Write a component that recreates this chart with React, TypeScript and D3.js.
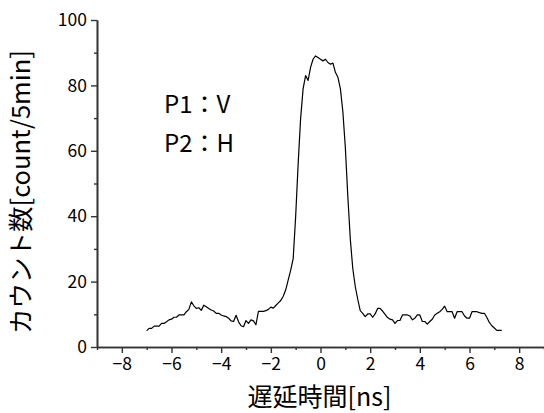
import React, { useEffect, useRef } from 'react';
import * as d3 from 'd3';

// delay time [ns] and counts per 5 min
const delays: number[] = d3.range(-7.0, 7.35, 0.1).map(v => Math.round(v * 10) / 10);
const counts: number[] = [
  5.0, 5.7, 5.7, 6.4, 6.4, 6.4, 7.2, 7.2, 7.7, 8.3,
  8.5, 9.1, 9.1, 9.8, 9.8, 9.8, 10.8, 11.5, 13.8, 12.6,
  11.8, 12.0, 11.2, 12.8, 12.3, 11.8, 11.3, 11.0, 10.3, 10.3,
  9.8, 9.5, 9.3, 8.8, 8.0, 7.8, 9.7, 7.7, 6.5, 6.2,
  8.1, 7.2, 8.3, 8.0, 6.8, 10.9, 10.9, 10.9, 11.1, 11.5,
  12.2, 11.9, 12.7, 13.5, 14.2, 15.5, 17.5, 20.5, 23.5, 27.0,
  40.0, 56.0, 70.0, 79.0, 83.0, 81.5, 85.5, 88.0, 89.0, 88.5,
  88.0, 87.5, 88.0, 87.0, 86.5, 86.8, 84.0, 82.5, 79.0, 72.0,
  61.0, 46.0, 33.0, 24.0, 18.5, 14.6, 11.1, 10.3, 9.3, 10.1,
  10.1, 9.1, 10.1, 11.8, 11.8, 11.0, 10.0, 9.0, 8.5, 8.3,
  7.2, 8.1, 8.1, 9.8, 9.8, 9.8, 9.5, 8.3, 8.8, 9.8,
  9.8, 7.8, 7.8, 7.0, 7.8, 8.5, 9.8, 10.3, 10.8, 11.5,
  12.5, 10.8, 10.8, 10.8, 8.8, 10.8, 10.8, 10.8, 9.5, 8.8,
  8.8, 10.8, 10.8, 10.8, 10.5, 10.3, 10.3, 9.0, 7.5, 6.5,
  5.8, 5.1, 5.1, 5.1,
];

const xMajorTicks = [-8, -6, -4, -2, 0, 2, 4, 6, 8];
const xMinorTicks = [-9, -7, -5, -3, -1, 1, 3, 5, 7, 9];
const yMajorTicks = [0, 20, 40, 60, 80, 100];
const yMinorTicks = [10, 30, 50, 70, 90];
const notes = ['P1：V', 'P2：H'];

const FONT = '"Noto Sans CJK JP", "Noto Sans", sans-serif';

const App: React.FC = () => {
  const svgRef = useRef<SVGSVGElement | null>(null);

  useEffect(() => {
    const svg = d3.select(svgRef.current);
    svg.selectAll('*').remove();

    const width = 544;
    const height = 413;
    const left = 97, right = 544, top = 20, bottom = 347;

    const x = d3.scaleLinear().domain([-9, 9]).range([left, right]);
    const y = d3.scaleLinear().domain([0, 100]).range([bottom, top]);

    svg.attr('width', width).attr('height', height);

    // x axis
    const gx = svg.append('g').attr('transform', `translate(0,${bottom})`);
    gx.call(d3.axisBottom(x).tickValues(xMajorTicks).tickSize(6).tickPadding(5).tickSizeOuter(0));
    gx.append('g').call(d3.axisBottom(x).tickValues(xMinorTicks).tickSize(3).tickFormat(() => '').tickSizeOuter(0));

    // y axis
    const gy = svg.append('g').attr('transform', `translate(${left},0)`);
    gy.call(d3.axisLeft(y).tickValues(yMajorTicks).tickSize(6).tickPadding(4).tickSizeOuter(0));
    gy.append('g').call(d3.axisLeft(y).tickValues(yMinorTicks).tickSize(3).tickFormat(() => '').tickSizeOuter(0));

    svg.selectAll('.domain').attr('stroke', '#333').attr('stroke-width', 1.6);
    svg.selectAll('.tick line').attr('stroke', '#333').attr('stroke-width', 1.4);
    svg.selectAll('.tick text')
      .attr('font-family', FONT)
      .attr('font-size', 17.5)
      .attr('fill', '#000');

    // histogram trace
    const line = d3.line<number>()
      .x((_, i) => x(delays[i]))
      .y(d => y(d));

    svg.append('path')
      .datum(counts.slice(0, delays.length))
      .attr('d', line)
      .attr('fill', 'none')
      .attr('stroke', '#000')
      .attr('stroke-width', 1.2)
      .attr('stroke-linejoin', 'round');

    // annotation
    svg.selectAll('.note')
      .data(notes)
      .enter()
      .append('text')
      .attr('class', 'note')
      .attr('x', 164)
      .attr('y', (_, i) => 113 + i * 39)
      .attr('font-family', FONT)
      .attr('font-size', 24)
      .attr('fill', '#000')
      .text(d => d);

    // axis titles
    svg.append('text')
      .attr('x', (left + right) / 2 - 1)
      .attr('y', 406)
      .attr('text-anchor', 'middle')
      .attr('font-family', FONT)
      .attr('font-size', 25)
      .attr('fill', '#000')
      .text('遅延時間[ns]');

    svg.append('text')
      .attr('transform', `translate(30,192) rotate(-90)`)
      .attr('text-anchor', 'middle')
      .attr('font-family', FONT)
      .attr('font-size', 25.5)
      .attr('fill', '#000')
      .text('カウント数[count/5min]');
  }, []);

  return (
    <svg ref={svgRef} style={{ position: 'absolute', left: 0, top: 0 }}></svg>
  );
};

export default App;
